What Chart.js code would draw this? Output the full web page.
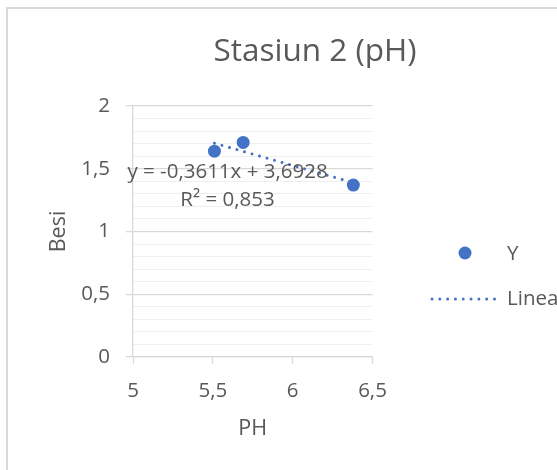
<!DOCTYPE html>
<html>
<head>
<meta charset="utf-8">
<script src="https://cdn.jsdelivr.net/npm/chart.js@4/dist/chart.umd.min.js"></script>
<style>
  html, body { margin: 0; padding: 0; background: #fff; overflow: hidden; }
  canvas { display: block; }
</style>
</head>
<body>
<canvas id="chart" width="557" height="470"></canvas>
<script>
// Series and labels
const chartTitle = 'Stasiun 2 (pH)';
const xAxisTitle = 'PH';
const yAxisTitle = 'Besi';
const seriesName = 'Y';
const trendName = 'Linear (Y)';
const phValues = [5.51, 5.69, 6.38];
const besiValues = [1.64, 1.71, 1.37];
const xTickLabels = ['5', '5,5', '6', '6,5'];
const yTickLabels = ['0', '0,5', '1', '1,5', '2'];

// Linear trendline as stated in its label
const trendSlope = -0.3611;
const trendIntercept = 3.6928;
const trendText = ['y = -0,3611x + 3,6928', 'R² = 0,853'];

const FONT = "'Open Sans', sans-serif";
const TEXT = '#595959';
const BLUE = '#4472C4';
const GRID_MAJOR = '#d9d9d9';
const GRID_MINOR = '#efefef';

const points = phValues.map((x, i) => ({ x, y: besiValues[i] }));
const xMin = Math.min(...phValues);
const xMax = Math.max(...phValues);
const trendPoints = [xMin, xMax].map(x => ({ x, y: trendSlope * x + trendIntercept }));

const isHalfStep = v => Math.abs(v * 2 - Math.round(v * 2)) < 1e-6;

// Frame, title, trendline equation and legend
const decor = {
  id: 'decor',
  beforeDraw(chart) {
    const ctx = chart.ctx;
    ctx.save();
    ctx.strokeStyle = '#d9d9d9';
    ctx.lineWidth = 2;
    ctx.beginPath();
    ctx.moveTo(7, chart.height);
    ctx.lineTo(7, 8);
    ctx.lineTo(chart.width, 8);
    ctx.stroke();
    ctx.restore();
  },
  afterDraw(chart) {
    const ctx = chart.ctx;
    const xs = chart.scales.x, ys = chart.scales.y;
    ctx.save();
    ctx.fillStyle = TEXT;

    // chart title
    ctx.font = `31.5px ${FONT}`;
    ctx.textAlign = 'center';
    ctx.textBaseline = 'alphabetic';
    ctx.fillText(chartTitle, 315, 61);

    // trendline equation
    ctx.font = `20.5px ${FONT}`;
    const lx = xs.getPixelForValue(5.592);
    const ly = ys.getPixelForValue(1.426);
    trendText.forEach((t, i) => ctx.fillText(t, lx, ly + i * 28));

    // legend
    const [ds, tr] = chart.data.datasets;
    ctx.fillStyle = ds.backgroundColor;
    ctx.beginPath();
    ctx.arc(465, 253, 6.5, 0, Math.PI * 2);
    ctx.fill();

    ctx.strokeStyle = tr.borderColor;
    ctx.lineWidth = tr.borderWidth;
    ctx.lineCap = 'round';
    ctx.setLineDash(tr.borderDash);
    ctx.beginPath();
    ctx.moveTo(432, 299);
    ctx.lineTo(499, 299);
    ctx.stroke();
    ctx.setLineDash([]);

    ctx.fillStyle = TEXT;
    ctx.font = `20.5px ${FONT}`;
    ctx.textAlign = 'left';
    ctx.textBaseline = 'middle';
    ctx.fillText(ds.label, 507, 254);
    ctx.fillText(tr.label, 507, 299);
    ctx.restore();
  }
};

new Chart(document.getElementById('chart'), {
  type: 'scatter',
  data: {
    datasets: [
      {
        label: seriesName,
        data: points,
        backgroundColor: BLUE,
        borderColor: BLUE,
        pointRadius: 6.5,
        pointHoverRadius: 6.5,
        borderWidth: 0,
        order: 0
      },
      {
        label: trendName,
        type: 'line',
        data: trendPoints,
        showLine: true,
        borderColor: BLUE,
        backgroundColor: BLUE,
        borderWidth: 3,
        borderDash: [0.01, 7.8],
        borderCapStyle: 'round',
        pointRadius: 0,
        fill: false,
        order: 1
      }
    ]
  },
  options: {
    responsive: false,
    animation: false,
    devicePixelRatio: 1,
    layout: { padding: { top: 106, right: 184.5, bottom: 0, left: 8 } },
    plugins: {
      legend: { display: false },
      title: { display: false },
      tooltip: { enabled: false }
    },
    scales: {
      x: {
        type: 'linear',
        min: 5,
        max: 6.5,
        afterFit: s => { s.height = 113; },
        ticks: {
          stepSize: 0.5,
          autoSkip: false,
          maxRotation: 0,
          padding: 14.7,
          color: TEXT,
          font: { family: FONT, size: 20.5 },
          callback: (v) => {
            const i = Math.round((v - 5) * 2);
            return isHalfStep(v) ? xTickLabels[i] : '';
          }
        },
        grid: {
          drawOnChartArea: false,
          drawTicks: true,
          tickLength: 7,
          tickColor: GRID_MAJOR,
          tickWidth: 1.3
        },
        border: { color: GRID_MAJOR, width: 1.3 },
        title: {
          display: true,
          text: xAxisTitle,
          color: TEXT,
          font: { family: FONT, size: 21.5 },
          padding: { top: 0, bottom: 28.1 }
        }
      },
      y: {
        type: 'linear',
        min: 0,
        max: 2,
        afterFit: s => { s.width = 125; },
        ticks: {
          stepSize: 0.1,
          autoSkip: false,
          padding: 16,
          color: TEXT,
          font: { family: FONT, size: 20.5 },
          callback: (v) => isHalfStep(v) ? yTickLabels[Math.round(v * 2)] : ''
        },
        grid: {
          drawTicks: true,
          tickLength: 7,
          color: c => isHalfStep(c.tick.value) ? GRID_MAJOR : GRID_MINOR,
          lineWidth: c => isHalfStep(c.tick.value) ? 1.3 : 1,
          tickColor: c => isHalfStep(c.tick.value) ? GRID_MAJOR : 'rgba(0,0,0,0)',
          tickWidth: 1.3
        },
        border: { color: GRID_MAJOR, width: 1.3 },
        title: {
          display: true,
          text: yAxisTitle,
          color: TEXT,
          font: { family: FONT, size: 21.5 },
          padding: { top: 37.6, bottom: 0 }
        }
      }
    }
  },
  plugins: [decor]
});
</script>
</body>
</html>
